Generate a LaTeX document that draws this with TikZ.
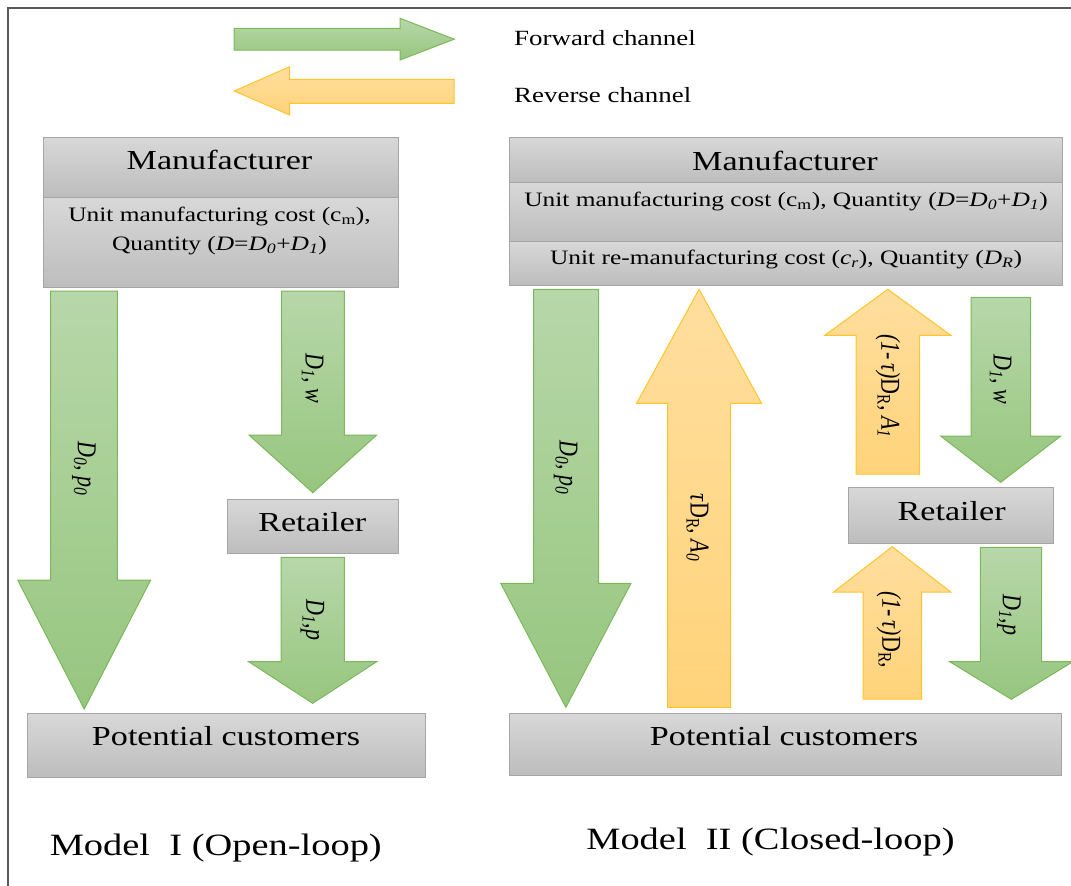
\documentclass[tikz,border=0pt]{standalone}
\usepackage{graphicx}
\usepackage{fontspec}
\setmainfont{Liberation Serif}[FakeStretch=1.24]
\newfontfamily\flowfont{Liberation Serif}

\definecolor{boxtop}{HTML}{D8D8D8}
\definecolor{boxbot}{HTML}{BDBDBD}
\definecolor{boxline}{HTML}{A5A5A5}
\definecolor{fwdtop}{HTML}{B7D7A9}
\definecolor{fwdbot}{HTML}{97C67F}
\definecolor{fwdline}{HTML}{7CB85A}
\definecolor{revtop}{HTML}{FFDE9E}
\definecolor{revbot}{HTML}{FFD37A}
\definecolor{revline}{HTML}{FFC52B}

\tikzset{
  box/.style={draw=boxline, line width=0.9pt, top color=boxtop, bottom color=boxbot, inner sep=0pt},
  fwd/.style={draw=fwdline, line width=1pt, top color=fwdtop, bottom color=fwdbot},
  rev/.style={draw=revline, line width=1pt, top color=revtop, bottom color=revbot},
  frame/.style={draw=black!65, line width=1.4pt},
  title/.style={font=\fontsize{27.5}{30}\selectfont, anchor=base},
  cost/.style={font=\fontsize{20.5}{28.3}\selectfont, anchor=base, align=center},
  legend/.style={font=\fontsize{21.7}{24}\selectfont, anchor=base west, inner sep=0pt},
  model/.style={font=\fontsize{31}{34}\selectfont, anchor=base},
  flow/.style={font=\flowfont\itshape\fontsize{22}{24}\selectfont, rotate=-90},
}

% block arrow: style, shaft left/right, head left/right, start y, head base y, tip y
\newcommand{\blockarrow}[8]{%
  \draw[#1] (#2,#6) -- (#3,#6) -- (#3,#7) -- (#5,#7) -- ({(#4+#5)/2},#8)
    -- (#4,#7) -- (#2,#7) -- cycle;}
\newcommand{\tall}[1]{\scalebox{1}[1.24]{#1}}

\begin{document}
\begin{tikzpicture}[x=1pt, y=-1pt]
\useasboundingbox (0,0) rectangle (1071,886);
\draw[frame] (8,886) -- (8,8) -- (1071,8);

% legend
\draw[fwd] (234,28.3) -- (400,28.3) -- (400,18.3) -- (454.2,39.2) -- (400,60)
  -- (400,50) -- (234,50) -- cycle;
\draw[rev] (454.2,79.3) -- (289.6,79.3) -- (289.6,66.7) -- (234.3,91) -- (289.6,115)
  -- (289.6,103.3) -- (454.2,103.3) -- cycle;
\node[legend] (fwdtxt) at (514,45.5) {Forward channel};
\node[legend] (revtxt) at (514,102) {Reverse channel};

% Model I: open loop
\node[box, minimum width=355pt, minimum height=60pt] (mfrLhead) at (220.5,167) {};
\node[box, minimum width=355pt, minimum height=90pt] (mfrLbody) at (220.5,242) {};
\node[box, minimum width=171pt, minimum height=54pt] (retL) at (312.5,526) {};
\node[box, minimum width=398pt, minimum height=64pt] (pcL) at (226,745) {};
\node[title] (mfrLtxt) at (219.5,169.3) {Manufacturer};
\node[cost] (costL) at (219.5,250) {Unit manufacturing cost (c\textsubscript{m}),\\
  Quantity (\textit{D}=\textit{D}\textsubscript{\textit{0}}+\textit{D}\textsubscript{\textit{1}})};
\node[title] (retLtxt) at (312.3,531.7) {Retailer};
\node[title] (pcLtxt) at (226,745) {Potential customers};

\blockarrow{fwd}{50.7}{117.3}{17.7}{150.7}{291}{580}{709}
\blockarrow{fwd}{281.7}{344.3}{249}{376.7}{291}{435}{492.7}
\blockarrow{fwd}{281}{344.3}{248.7}{376.7}{557.3}{661.7}{703.3}
\node[flow] (fD0L) at (84,469) {\tall{D\textsubscript{0}, p\textsubscript{0}}};
\node[flow] (fD1wL) at (312.5,378) {\tall{D\textsubscript{1}, w}};
\node[flow] (fD1pL) at (312.5,620) {\tall{D\textsubscript{1},p}};

\node[model] (modelI) at (215.8,855.7) {Model\ \ I (Open-loop)};

% Model II: closed loop
\node[box, minimum width=553pt, minimum height=45pt] (mfrRhead) at (785.5,159.5) {};
\node[box, minimum width=553pt, minimum height=59pt] (mfrRmid) at (785.5,211.5) {};
\node[box, minimum width=553pt, minimum height=44pt] (mfrRlow) at (785.5,263) {};
\node[box, minimum width=204.5pt, minimum height=56pt] (retR) at (950.7,515) {};
\node[box, minimum width=552pt, minimum height=62pt] (pcR) at (785,744) {};
\node[title] (mfrRtxt) at (785,170) {Manufacturer};
\node[cost] (costR) at (786,206) {Unit manufacturing cost (c\textsubscript{m}), Quantity
  (\textit{D}=\textit{D}\textsubscript{\textit{0}}+\textit{D}\textsubscript{\textit{1}})};
\node[cost] (remR) at (786,264) {Unit re-manufacturing cost (\textit{c\textsubscript{r}}),
  Quantity (\textit{D\textsubscript{R}})};
\node[title] (retRtxt) at (951.6,520) {Retailer};
\node[title] (pcRtxt) at (784,745) {Potential customers};

\blockarrow{fwd}{533.5}{598.7}{500.7}{631}{289.3}{583.3}{707.3}
\blockarrow{rev}{667.5}{730.5}{636.6}{761.5}{707.3}{403.3}{289.3}
\blockarrow{rev}{856}{919.5}{824.8}{950.8}{474}{335.3}{289.3}
\blockarrow{fwd}{971.2}{1030.6}{940.6}{1060.8}{297.3}{436}{482.3}
\blockarrow{rev}{863}{921.7}{833.6}{950.8}{699}{592}{546.7}
\blockarrow{fwd}{980.3}{1041.5}{949.7}{1072.9}{547.3}{661.7}{699.3}
\node[flow] (fD0R) at (565.6,467.5) {\tall{D\textsubscript{0}, p\textsubscript{0}}};
\node[flow] (fA0R) at (697.5,527.5) {\tall{τ\textup{D\textsubscript{R}}, A\textsubscript{0}}};
\node[flow] (fA1R) at (888,386) {\tall{(1-\,τ)\textup{D\textsubscript{R}}, A\textsubscript{1}}};
\node[flow] (fD1wR) at (1000.5,379) {\tall{D\textsubscript{1}, w}};
\node[flow] (fDRR) at (889,630) {\tall{(1-\,τ)\textup{D\textsubscript{R}},}};
\node[flow] (fD1pR) at (1009,615) {\tall{D\textsubscript{1},p}};

\node[model] (modelII) at (770.5,849) {Model\ \ II (Closed-loop)};
\end{tikzpicture}
\end{document}
